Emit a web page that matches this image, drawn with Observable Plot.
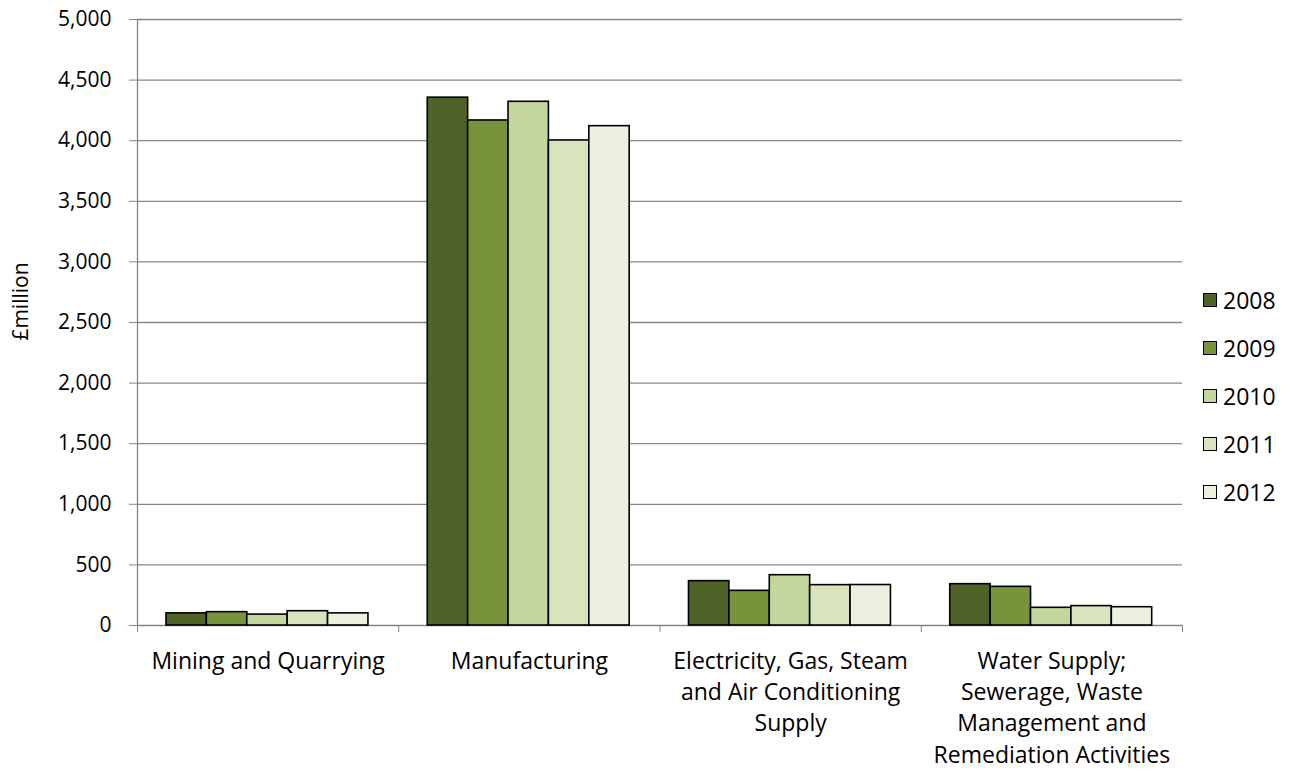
<!DOCTYPE html>
<html>
<head>
<meta charset="utf-8">
<script src="https://cdn.jsdelivr.net/npm/d3@7"></script>
<script src="https://cdn.jsdelivr.net/npm/@observablehq/plot@0.6"></script>
<style>
  body { margin: 0; background: #fff; }
  #wrap { position: relative; width: 1290px; height: 771px; font-family: "Open Sans", Lato, sans-serif; }
  #legend { position: absolute; left: 1203px; top: 276px; }
  .item { display: flex; align-items: center; height: 48px; font-size: 23px; color: #000; }
  .sw { width: 12px; height: 12px; border: 1.5px solid #000; margin-right: 6px; }
</style>
</head>
<body>
<div id="wrap"></div>
<script>
const categories = [
  "Mining and Quarrying",
  "Manufacturing",
  "Electricity, Gas, Steam\nand Air Conditioning\nSupply",
  "Water Supply;\nSewerage, Waste\nManagement and\nRemediation Activities"
];
const years = ["2008", "2009", "2010", "2011", "2012"];
const v2008 = [100, 4355, 366, 341];
const v2009 = [110, 4167, 286, 319];
const v2010 = [90, 4321, 415, 146];
const v2011 = [118, 4002, 333, 160];
const v2012 = [100, 4120, 334, 151];
const yTicks = [0, 500, 1000, 1500, 2000, 2500, 3000, 3500, 4000, 4500, 5000];
const colors = ["#4F6228", "#77933C", "#C3D69B", "#D7E4BD", "#EBF1DE"];

const series = [v2008, v2009, v2010, v2011, v2012];
const groupStart = 0.111, barW = 0.1546;
const rows = [];
categories.forEach((c, ci) => {
  years.forEach((y, yi) => {
    const x1 = ci + groupStart + yi * barW;
    rows.push({category: c, year: y, value: series[yi][ci], x1, x2: x1 + barW});
  });
});

const fmt = d3.format(",");
const chart = Plot.plot({
  width: 1290,
  height: 771,
  marginLeft: 137,
  marginRight: 108,
  marginTop: 19,
  marginBottom: 146,
  style: {fontFamily: "'Open Sans', Lato, sans-serif", fontSize: "22px", color: "#000", background: "#fff"},
  x: {domain: [0, categories.length]},
  y: {domain: [0, 5000]},
  color: {domain: years, range: colors},
  marks: [
    Plot.ruleY(yTicks, {stroke: "#868686", strokeWidth: 1.3, strokeOpacity: 1}),
    Plot.ruleX([0], {stroke: "#868686", strokeWidth: 1.3}),
    Plot.axisY({ticks: yTicks, tickFormat: fmt, tickSize: 8, tickPadding: 18, stroke: "#868686", strokeOpacity: 1, label: null, fontSize: 21, fill: "#000"}),
    Plot.axisX({ticks: d3.range(0, categories.length + 1), tickSize: 7, tickFormat: () => "", stroke: "#868686", strokeOpacity: 1, label: null}),
    Plot.rectY(rows, {x1: "x1", x2: "x2", y: "value", fill: "year", stroke: "#000", strokeWidth: 1.6}),
    Plot.text(categories, {x: (d, i) => i + 0.5, y: 0, text: d => d, lineAnchor: "top", dy: 21, lineHeight: 1.36, fontSize: 23, fill: "#000"}),
    Plot.text(["£million"], {frameAnchor: "left", textAnchor: "middle", rotate: -90, dx: -116, dy: -21, fontSize: 21, fill: "#000"})
  ]
});
const wrap = document.getElementById("wrap");
wrap.appendChild(chart);
const legend = document.createElement("div");
legend.id = "legend";
years.forEach((y, i) => {
  const it = document.createElement("div");
  it.className = "item";
  it.innerHTML = `<span class="sw" style="background:${colors[i]}"></span><span>${y}</span>`;
  legend.appendChild(it);
});
wrap.appendChild(legend);
</script>
</body>
</html>
